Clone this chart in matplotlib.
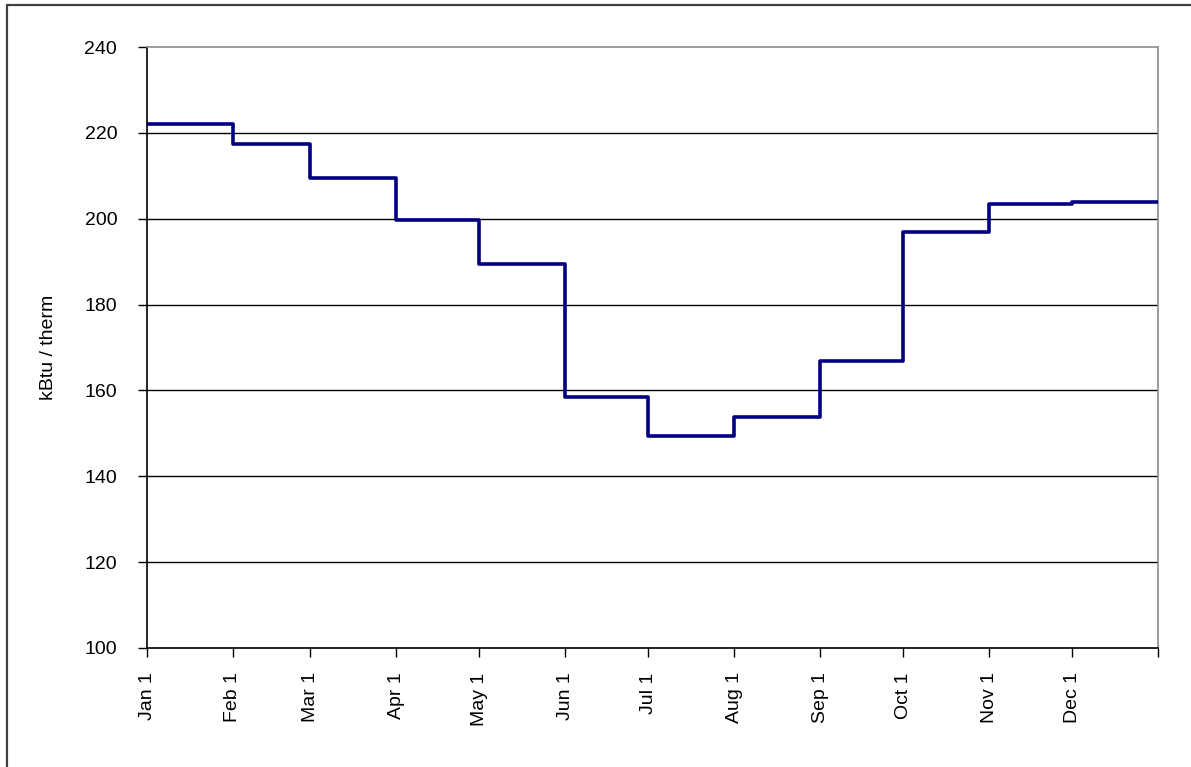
import matplotlib
matplotlib.use("Agg")
import matplotlib.pyplot as plt
from matplotlib.patches import Rectangle

# Data
month_labels = ["Jan 1", "Feb 1", "Mar 1", "Apr 1", "May 1", "Jun 1",
                "Jul 1", "Aug 1", "Sep 1", "Oct 1", "Nov 1", "Dec 1"]
month_start_day = [0, 31, 59, 90, 120, 151, 181, 212, 243, 273, 304, 334]
year_end_day = 365
kbtu_per_therm = [222.0, 217.4, 209.5, 199.8, 189.5, 158.5,
                  149.5, 153.7, 166.8, 196.9, 203.5, 203.9]
y_ticks = [100, 120, 140, 160, 180, 200, 220, 240]

W, H = 1191, 767
fig = plt.figure(figsize=(W / 100, H / 100), dpi=100)
fig.patch.set_facecolor("white")

# outer frame (only left/top visible in the reference)
fig.patches.append(Rectangle((7 / W, -0.05), 1.2, (H - 5) / H + 0.05,
                             transform=fig.transFigure, fill=False,
                             edgecolor="#404040", linewidth=1.6))

left, right = 147 / W, 1158 / W
top, bottom = 1 - 47 / H, 1 - 648 / H
ax = fig.add_axes([left, bottom, right - left, top - bottom])

xs = month_start_day + [year_end_day]
ys = kbtu_per_therm + [kbtu_per_therm[-1]]
ax.step(xs, ys, where="post", color="#000080", linewidth=2.6, zorder=3)

ax.set_xlim(0, year_end_day)
ax.set_ylim(100, 240)
ax.set_yticks(y_ticks)
ax.set_yticklabels([str(v) for v in y_ticks])
ax.set_xticks(month_start_day + [year_end_day])
ax.set_xticklabels(month_labels + [""], rotation=90, va="top", ha="center")

for v in y_ticks[1:-1]:
    ax.axhline(v, color="black", linewidth=1.0, zorder=1)

for s in ["left", "bottom"]:
    ax.spines[s].set_color("black")
    ax.spines[s].set_linewidth(1.2)
for s in ["top", "right"]:
    ax.spines[s].set_color("#8c8c8c")
    ax.spines[s].set_linewidth(1.2)

fs = 14
font = dict(family=["Liberation Sans", "DejaVu Sans"], size=fs)
ax.tick_params(axis="y", direction="out", length=6.5, width=1.0, pad=15,
               labelsize=fs, colors="black")
ax.tick_params(axis="x", direction="out", length=6.5, width=1.0, pad=11,
               labelsize=fs, colors="black")
for lab in ax.get_xticklabels() + ax.get_yticklabels():
    lab.set_fontfamily(["Liberation Sans", "DejaVu Sans"])

ax.set_ylabel("kBtu / therm", fontdict=font, labelpad=20)

fig.savefig("out.png", dpi=100, facecolor="white")
